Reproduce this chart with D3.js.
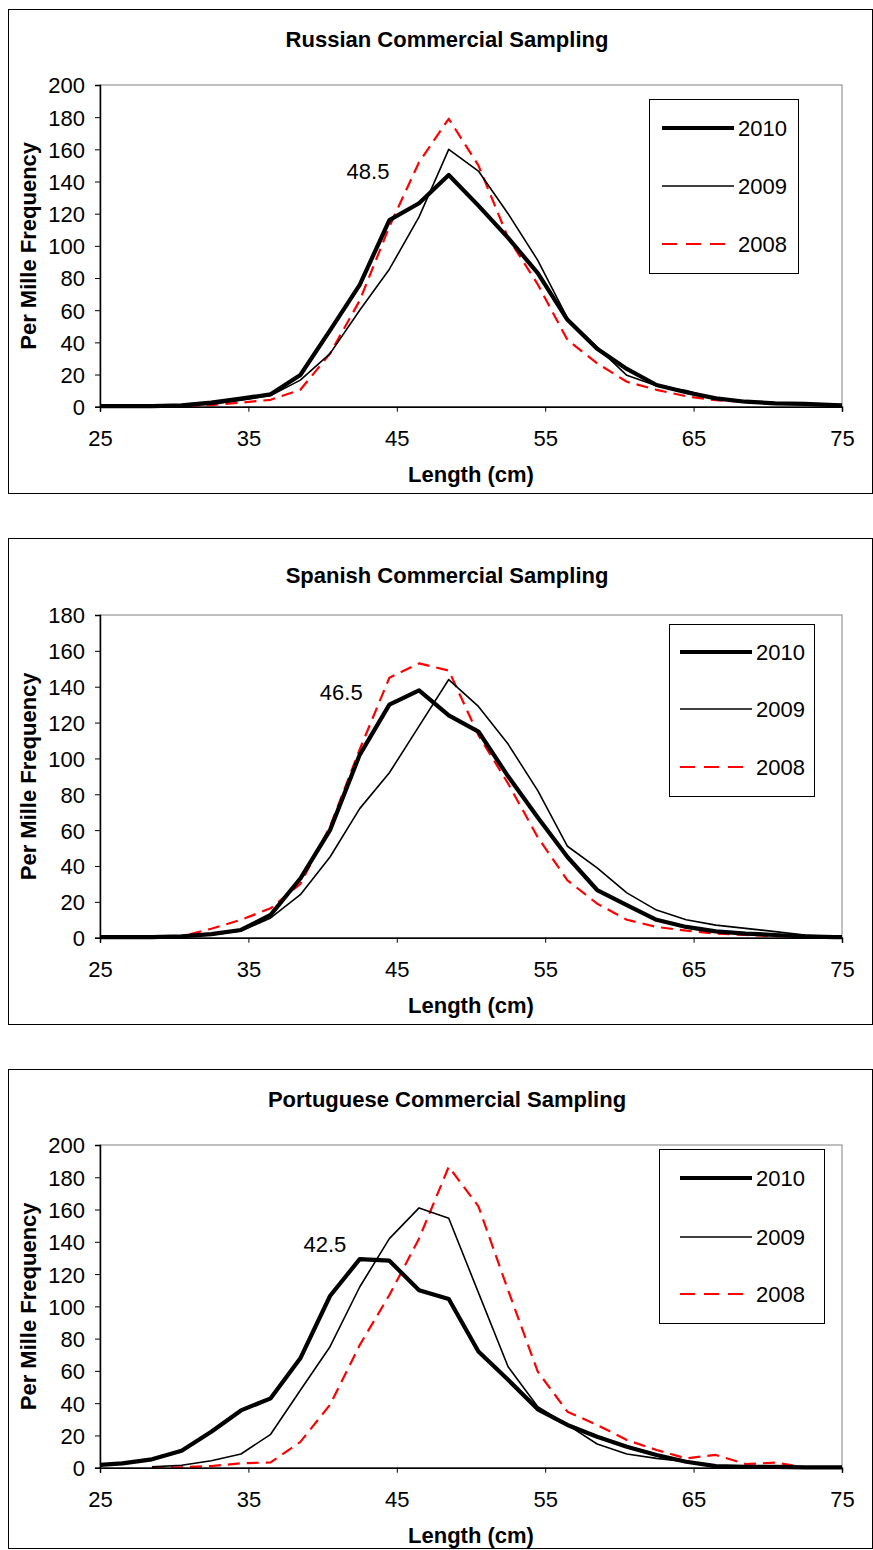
<!DOCTYPE html>
<html>
<head>
<meta charset="utf-8">
<script src="https://cdn.jsdelivr.net/npm/d3@7"></script>
<style>
  html, body { margin: 0; padding: 0; background: #fff; }
  svg { display: block; }
  text { font-family: "Liberation Sans", Arial, sans-serif; fill: #000; }
</style>
</head>
<body>
<svg id="chart" width="873" height="1550"></svg>
<script>
// ---------------- DATA ----------------
const lengths = [24.5, 26.5, 28.5, 30.5, 32.5, 34.5, 36.5, 38.5, 40.5, 42.5, 44.5, 46.5, 48.5,
                 50.5, 52.5, 54.5, 56.5, 58.5, 60.5, 62.5, 64.5, 66.5, 68.5, 70.5, 72.5, 74.5, 76.5];
const years = ["2010", "2009", "2008"];
const xTicks = [25, 35, 45, 55, 65, 75];

const panelTitles = ["Russian Commercial Sampling", "Spanish Commercial Sampling", "Portuguese Commercial Sampling"];
const yMaxes = [200, 180, 200];
const modeLabels = ["48.5", "46.5", "42.5"];
const modeLabelPos = [[44.5, 141.6], [42.7, 132.5], [41.6, 133.7]]; // [length, frequency]

const russian2010 = [0.3, 0.3, 0.4, 0.8, 2.5, 5, 7.7, 19.7, 47.5, 75.7, 116, 126.5, 144, 125, 105, 83, 54, 36, 23.5, 13.5, 9, 5.2, 3.1, 2.1, 1.7, 1, 0.5];
const russian2009 = [0.3, 0.3, 0.4, 0.6, 1.5, 4, 7, 16.5, 33, 60, 85.5, 118, 160, 146.5, 120, 91, 55, 37, 19.5, 13, 10, 5, 3, 2, 1.6, 1, 0.5];
const russian2008 = [0.3, 0.3, 0.3, 0.4, 1, 2.5, 4.3, 10.5, 33, 66, 112, 152, 179, 150, 105, 76, 41.5, 27, 15.5, 10.5, 6.5, 4, 3, 2, 1.5, 1, 0.5];

const spanish2010 = [0.3, 0.3, 0.3, 0.8, 2, 4.3, 12.7, 33, 60, 102, 130, 138, 124, 115, 90, 67, 45, 26.6, 18.2, 10, 6, 3.5, 2.3, 1.5, 0.7, 0.3, 0.2];
const spanish2009 = [0.3, 0.3, 0.3, 0.6, 1.5, 3.7, 11, 24, 45, 72, 92, 118, 144, 129, 108, 82, 51, 39, 25, 15.4, 10, 7, 5.2, 3.4, 1.5, 0.3, 0.2];
const spanish2008 = [null, null, 0.2, 0.8, 5, 10, 16.4, 30, 62, 105, 145, 153, 149, 113, 86, 56, 32, 19, 10, 6, 3.9, 2.3, 1.5, 0.9, 0.5, 0.2, 0.1];

const portuguese2010 = [1.5, 2.7, 5.2, 10.5, 22.3, 35.5, 43, 67.8, 106.4, 129.3, 128.3, 110, 104.5, 72, 54.5, 36.2, 26.5, 19.2, 13, 7.9, 3.7, 1, 0.5, 0.5, 0.2, 0.2, 0.2];
const portuguese2009 = [null, null, 0.5, 1.5, 4.3, 8.5, 20.7, 48, 75, 112, 142, 161, 154.6, 108.5, 62.6, 37.8, 26.5, 14.7, 8.5, 5.8, 3.7, 0.8, 0.5, 0.5, 0.3, 0.3, 0.3];
const portuguese2008 = [null, null, 0.2, 0.3, 1, 2.7, 3.3, 16, 39, 76, 107, 142, 186.5, 162, 110, 59.5, 34.7, 26.5, 17.2, 11, 5.8, 7.9, 2.3, 3.1, 0.3, 0.3, 0.3];

const panelSeries = [
  [russian2010, russian2009, russian2008],
  [spanish2010, spanish2009, spanish2008],
  [portuguese2010, portuguese2009, portuguese2008]
];

// ---------------- LAYOUT / STYLE ----------------
const layouts = [
  { box: [8, 9, 872, 493],     plot: [100, 85, 842, 406.7],   titleY: 47,   xLabY: 446,  xTitleY: 482,  legend: [649, 99, 798, 273],    legLines: [128, 186, 244], legX: [662, 734] },
  { box: [8, 538, 872, 1024],  plot: [100, 615, 842, 937.7],  titleY: 583,  xLabY: 977,  xTitleY: 1013, legend: [669, 624, 814, 796],   legLines: [652, 709, 767], legX: [680, 752] },
  { box: [8, 1069, 872, 1548], plot: [100, 1145, 842, 1467.7], titleY: 1107, xLabY: 1507, xTitleY: 1543, legend: [659, 1149, 824, 1323], legLines: [1178, 1237, 1294], legX: [680, 752] }
];
const styles = [
  { stroke: "#000", width: 4.2, dash: null },
  { stroke: "#000", width: 1.6, dash: null },
  { stroke: "#ff0000", width: 2.2, dash: "12,7" }
];
const FS = 22;

const svg = d3.select("#chart");
const defs = svg.append("defs");

panelSeries.forEach((series, p) => {
  const L = layouts[p];
  const [px0, py0, px1, py1] = L.plot;
  const g = svg.append("g");

  // panel border
  g.append("rect")
    .attr("x", L.box[0] + 0.5).attr("y", L.box[1] + 0.5)
    .attr("width", L.box[2] - L.box[0]).attr("height", L.box[3] - L.box[1])
    .attr("fill", "#fff").attr("stroke", "#000").attr("stroke-width", 1);

  const x = d3.scaleLinear().domain([25, 75]).range([px0, px1]);
  const y = d3.scaleLinear().domain([0, yMaxes[p]]).range([py1, py0]);

  // plot area border
  g.append("rect")
    .attr("x", px0).attr("y", py0).attr("width", px1 - px0).attr("height", py1 - py0)
    .attr("fill", "none").attr("stroke", "#808080").attr("stroke-width", 1);

  // title
  g.append("text").attr("x", 447).attr("y", L.titleY).attr("text-anchor", "middle")
    .attr("font-size", FS).attr("font-weight", "bold").text(panelTitles[p]);

  // clip
  const clipId = "clip" + p;
  defs.append("clipPath").attr("id", clipId).append("rect")
    .attr("x", px0).attr("y", py0 - 5).attr("width", px1 - px0).attr("height", py1 - py0 + 10);

  // lines
  const line = d3.line()
    .defined(d => d != null)
    .x((d, i) => x(lengths[i]))
    .y(d => y(d));
  const lg = g.append("g").attr("clip-path", `url(#${clipId})`);
  [2, 1, 0].forEach(s => {
    lg.append("path")
      .datum(series[s].map((v, i) => v))
      .attr("d", (arr) => line(arr))
      .attr("fill", "none")
      .attr("stroke", styles[s].stroke)
      .attr("stroke-width", styles[s].width)
      .attr("stroke-linejoin", "round")
      .attr("stroke-dasharray", styles[s].dash);
  });
  // fix: line accessor uses index within array
  lg.selectAll("path").attr("d", function(arr) {
    return d3.line().defined(d => d != null).x((d, i) => x(lengths[i])).y(d => y(d))(arr);
  });

  // axes
  const yAxis = d3.axisLeft(y).tickValues(d3.range(0, yMaxes[p] + 1, 20)).tickSize(5).tickPadding(10).tickFormat(d3.format("d"));
  const ya = g.append("g").attr("transform", `translate(${px0},0)`).call(yAxis);
  const xAxis = d3.axisBottom(x).tickValues(xTicks).tickSize(5).tickFormat(d3.format("d"));
  const xa = g.append("g").attr("transform", `translate(0,${py1})`).call(xAxis);
  [ya, xa].forEach(a => {
    a.select(".domain").attr("stroke", "#000").attr("stroke-width", 1.5);
    a.selectAll(".tick line").attr("stroke", "#000");
    a.selectAll("text").attr("font-size", FS).attr("font-family", '"Liberation Sans", Arial, sans-serif').attr("fill", "#000");
  });
  ya.selectAll("text").attr("dy", "0.36em");
  xa.selectAll("text").attr("dy", null).attr("y", L.xLabY - py1);

  // axis titles
  g.append("text").attr("x", (px0 + px1) / 2).attr("y", L.xTitleY).attr("text-anchor", "middle")
    .attr("font-size", FS).attr("font-weight", "bold").text("Length (cm)");
  g.append("text").attr("transform", `translate(36,${(py0 + py1) / 2}) rotate(-90)`).attr("text-anchor", "middle")
    .attr("font-size", FS).attr("font-weight", "bold").text("Per Mille Frequency");

  // mode annotation
  g.append("text").attr("x", x(modeLabelPos[p][0])).attr("y", y(modeLabelPos[p][1]))
    .attr("text-anchor", "end").attr("font-size", FS).text(modeLabels[p]);

  // legend
  const [lx0, ly0, lx1, ly1] = L.legend;
  g.append("rect").attr("x", lx0 + 0.5).attr("y", ly0 + 0.5).attr("width", lx1 - lx0).attr("height", ly1 - ly0)
    .attr("fill", "#fff").attr("stroke", "#000").attr("stroke-width", 1);
  years.forEach((yr, s) => {
    const ly = L.legLines[s];
    g.append("line").attr("x1", L.legX[0]).attr("x2", L.legX[1]).attr("y1", ly).attr("y2", ly)
      .attr("stroke", styles[s].stroke).attr("stroke-width", styles[s].width)
      .attr("stroke-dasharray", s === 2 ? "15,9" : null);
    g.append("text").attr("x", L.legX[1] + 4).attr("y", ly).attr("dy", "0.36em")
      .attr("font-size", FS).text(yr);
  });
});
</script>
</body>
</html>
